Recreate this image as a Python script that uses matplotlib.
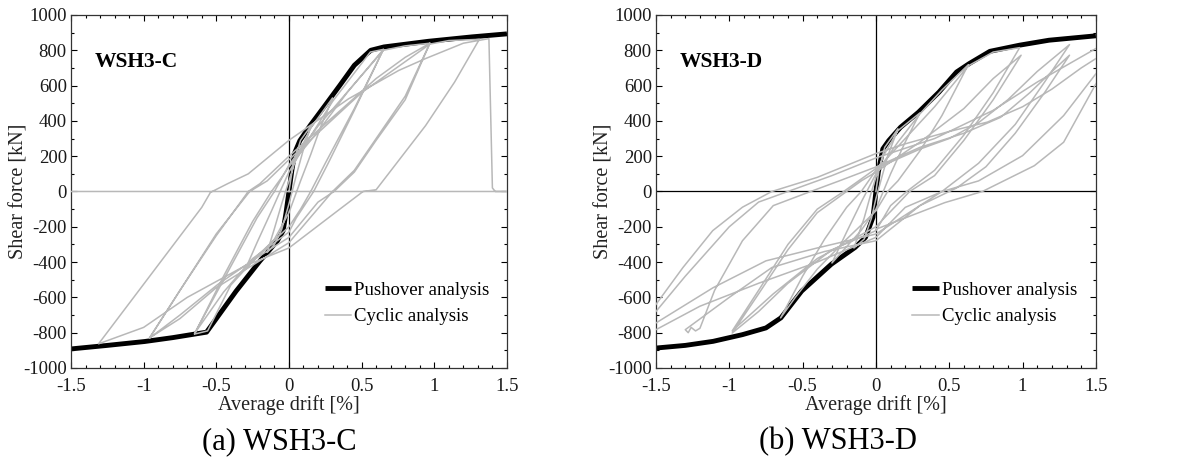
import matplotlib
matplotlib.use("Agg")
import matplotlib.pyplot as plt
from matplotlib.ticker import MultipleLocator

plt.rcParams["font.family"] = ["Liberation Serif", "DejaVu Serif"]

# --- WSH3-C ---
push_c_x = [-1.5, -1.25, -0.993, -0.8, -0.567, -0.364, -0.2, -0.08, -0.04, -0.02, 0, 0.02, 0.04,
            0.075, 0.146, 0.248, 0.35, 0.45, 0.563, 0.654, 0.96, 1.26, 1.5]
push_c_y = [-892, -872, -850, -828, -797, -565, -394, -280, -222, -120, 0, 120, 220,
            288, 374, 487, 601, 715, 800, 819, 851, 876, 893]

cyc_c_x = [0,
           0.03, 0.08, 0.15, 0.1, 0.05, 0, -0.05, -0.1, -0.15, -0.1, -0.05, 0, 0.05, 0.15,
           0.3, 0.22, 0.15, 0.08, 0, -0.1, -0.3, -0.22, -0.12, -0.05, 0, 0.1, 0.3,
           0.56, 0.65, 0.45, 0.25, 0.15, 0.08, 0, -0.2, -0.4, -0.56, -0.65, -0.45, -0.25, -0.12, -0.05, 0, 0.2, 0.4, 0.65,
           0.45, 0.27, 0.17, 0.05, 0, -0.25, -0.45, -0.65, -0.43, -0.22, -0.1, 0, 0.2, 0.45, 0.65,
           0.8, 0.97, 0.8, 0.6, 0.45, 0.31, 0.2, 0, -0.25, -0.49, -0.75, -0.96, -0.75, -0.5, -0.28, -0.2, 0, 0.3, 0.6, 0.8, 0.97,
           0.8, 0.6, 0.45, 0.3, 0, -0.5, -0.75, -0.96, -0.5, -0.27, -0.15, 0, 0.5, 0.97,
           1.1, 1.31, 1.14, 0.94, 0.6, 0.51, 0.35, 0, -0.3, -0.7, -1.0, -1.31, -0.6, -0.54, -0.42, -0.28, 0,
           0.41, 0.756, 0.94, 1.2, 1.376, 1.40, 1.42, 1.5, -1.5]
cyc_c_y = [0,
           160, 290, 370, 240, 90, -70, -215, -300, -345, -210, -70, 60, 190, 360,
           530, 370, 210, 60, -120, -270, -440, -290, -110, 20, 110, 250, 510,
           790, 805, 470, 160, 0, -100, -200, -350, -530, -790, -808, -480, -170, 0, 80, 140, 340, 560, 805,
           460, 160, 0, -150, -230, -380, -570, -805, -470, -150, 0, 150, 370, 610, 800,
           825, 840, 520, 290, 110, 0, -60, -260, -390, -527, -700, -831, -560, -250, 0, 44, 200, 420, 640, 760, 840,
           540, 300, 120, 0, -290, -545, -720, -830, -240, 0, 60, 180, 560, 835,
           855, 862, 620, 373, 10, 0, -100, -320, -420, -600, -770, -863, -90, -5, 45, 100, 290,
           525, 686, 753, 840, 866, 20, 0, 0, 0]

# --- WSH3-D ---
push_d_x = [-1.5, -1.3, -1.11, -0.91, -0.75, -0.648, -0.506, -0.304, -0.142, -0.071, -0.02, 0,
            0.016, 0.047, 0.087, 0.168, 0.29, 0.43, 0.55, 0.635, 0.777, 0.98, 1.18, 1.5]
push_d_y = [-887, -872, -849, -811, -773, -716, -564, -412, -317, -260, -146, 0,
            108, 241, 288, 364, 449, 563, 677, 724, 794, 829, 857, 882]

cyc_d_x = [0, 0.02, 0.06, 0.15, 0.08, 0.03, 0, -0.03, -0.08, -0.15, -0.08, -0.03, 0, 0.05, 0.15,
           0.3, 0.2, 0.1, 0.05, 0, -0.1, -0.3, -0.2, -0.1, -0.05, 0, 0.15, 0.3,
           0.45, 0.63, 0.45, 0.3, 0.15, 0.08, 0, -0.2, -0.4, -0.55, -0.65, -0.5, -0.35, -0.2, -0.1, 0, 0.2, 0.4, 0.63,
           0.8, 0.98, 0.8, 0.6, 0.4, 0.21, 0.1, 0, -0.3, -0.6, -0.8, -0.98, -0.8, -0.6, -0.4, -0.2, -0.1, 0, 0.3, 0.6, 0.8, 0.99,
           0.8, 0.6, 0.4, 0.23, 0, -0.4, -0.7, -0.98, -0.8, -0.6, -0.4, -0.22, 0, 0.3, 0.5, 0.7, 0.9, 1.1, 1.32,
           1.15, 0.95, 0.7, 0.45, 0.3, 0, -0.35, -0.71, -1.0, -1.3, -1.28, -1.26, -1.23, -1.2, -1.1, -0.91, -0.7, -0.445, -0.25, 0,
           0.3, 0.6, 0.85, 1.05, 1.2, 1.32,
           1.15, 0.95, 0.75, 0.55, 0.3, 0, -0.4, -0.75, -1.11, -1.5, -1.7,
           -1.5, -1.316, -1.113, -0.91, -0.71, -0.4, 0, 0.2, 0.5, 0.76, 1.0, 1.2, 1.4, 1.5, 1.7,
           1.5, 1.28, 1.0, 0.7, 0.452, 0.2, 0, -0.4, -0.8, -1.2, -1.5, -1.7,
           -1.5, -1.3, -1.0, -0.8, -0.6, -0.3, 0, 0.4, 0.8, 1.1, 1.5, 1.7,
           1.5, 1.28, 1.08, 0.726, 0.47, 0]
cyc_d_y = [0, 120, 250, 355, 200, 50, -40, -150, -270, -320, -150, 0, 80, 200, 345,
           445, 280, 100, 0, -100, -220, -405, -230, -60, 20, 100, 280, 440,
           575, 718, 430, 230, 60, 0, -110, -270, -440, -600, -716, -480, -270, -90, 0, 120, 300, 480, 712,
           790, 815, 560, 320, 120, 0, -80, -222, -330, -520, -680, -802, -580, -330, -120, 0, 60, 110, 280, 470, 640, 772,
           520, 290, 90, 0, -200, -380, -580, -790, -560, -300, -100, 0, 130, 240, 300, 390, 520, 680, 832,
           620, 380, 160, 0, -80, -279, -340, -431, -600, -783, -800, -770, -790, -775, -560, -279, -80, 0, 60, 139,
           250, 330, 420, 560, 680, 772,
           560, 330, 140, 20, -80, -241, -320, -393, -545, -745, -830,
           -640, -431, -222, -89, 0, 80, 215, 270, 340, 393, 480, 580, 700, 753, 830,
           667, 430, 203, 60, 0, -90, -260, -400, -520, -650, -783, -850,
           -680, -480, -200, -60, 0, 90, 190, 300, 460, 620, 810, 860,
           610, 279, 146, 0, -63, -214]

x_ticks = [-1.5, -1, -0.5, 0, 0.5, 1, 1.5]
x_tick_labels = ["-1.5", "-1", "-0.5", "0", "0.5", "1", "1.5"]
y_ticks = list(range(-1000, 1001, 200))

panels = [
    ("WSH3-C", "(a) WSH3-C", push_c_x, push_c_y, cyc_c_x, cyc_c_y, [0.0603, 0.2187, 0.3704, 0.7495], 0.237),
    ("WSH3-D", "(b) WSH3-D", push_d_x, push_d_y, cyc_d_x, cyc_d_y, [0.5573, 0.2187, 0.3738, 0.7495], 0.712),
]

fig = plt.figure(figsize=(11.77, 4.71), dpi=100)
for name, caption, px, py, cx, cy, rect, cap_x in panels:
    ax = fig.add_axes(rect)
    ax.axvline(0, color="black", lw=0.9, zorder=1)
    if name == "WSH3-D":
        ax.axhline(0, color="black", lw=0.9, zorder=1)
    ax.plot(px, py, color="black", lw=3.5, label="Pushover analysis", zorder=2, solid_capstyle="butt")
    ax.plot(cx, cy, color="#b8b8b8", lw=1.1, label="Cyclic analysis", zorder=3)
    ax.set_xlim(-1.5, 1.5)
    ax.set_ylim(-1000, 1000)
    ax.set_xticks(x_ticks)
    ax.set_xticklabels(x_tick_labels)
    ax.set_yticks(y_ticks)
    ax.set_yticklabels([str(v) for v in y_ticks])
    ax.xaxis.set_minor_locator(MultipleLocator(0.1))
    ax.yaxis.set_minor_locator(MultipleLocator(100))
    ax.tick_params(which="both", direction="in", top=True, right=True, labelsize=13.5, width=0.8,
                   labelcolor="#1a1a1a")
    ax.tick_params(which="major", length=4)
    ax.tick_params(axis="x", which="major", pad=7)
    ax.tick_params(axis="y", which="major", pad=3)
    ax.tick_params(which="minor", length=2.5)
    for s in ax.spines.values():
        s.set_linewidth(0.9)
        s.set_color("#333333")
    ax.set_xlabel("Average drift [%]", fontsize=14.5, labelpad=0, color="#222222")
    ax.set_ylabel("Shear force [kN]", fontsize=14.5, labelpad=-4, color="#222222")
    ax.text(-1.34, 735, name, fontsize=15.5, fontweight="bold", va="center", ha="left")
    ax.legend(loc="center left", bbox_to_anchor=(0.583, 0.183), frameon=False, fontsize=13.5,
              handlelength=1.4, handletextpad=0.15, labelspacing=0.5, borderpad=0, borderaxespad=0)
    fig.text(cap_x, 0.062, caption, fontsize=22, ha="center", va="center")

fig.savefig("out.png", dpi=100)
